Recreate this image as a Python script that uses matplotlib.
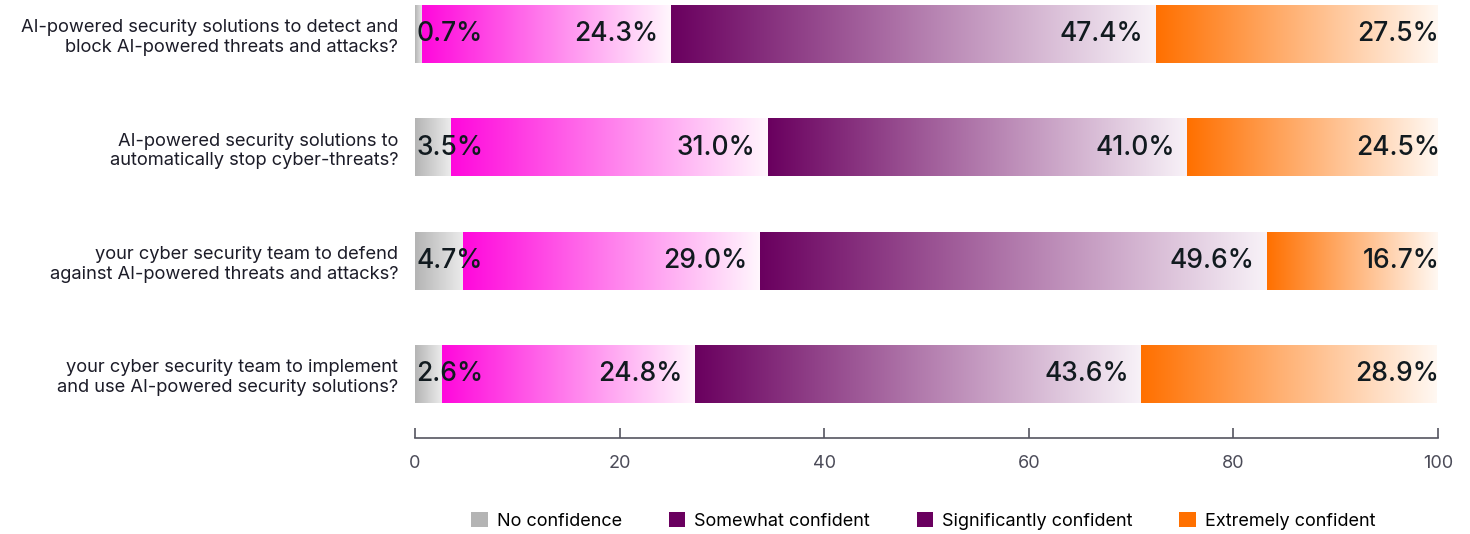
import numpy as np
import matplotlib
matplotlib.use("Agg")
import matplotlib.pyplot as plt
from matplotlib.colors import to_rgb
from matplotlib.patches import Patch

plt.rcParams['font.family'] = ['Inter', 'DejaVu Sans']

# data
categories = [
    "AI-powered security solutions to detect and\nblock AI-powered threats and attacks?",
    "AI-powered security solutions to\nautomatically stop cyber-threats?",
    "your cyber security team to defend\nagainst AI-powered threats and attacks?",
    "your cyber security team to implement\nand use AI-powered security solutions?",
]
no_confidence = [0.7, 3.5, 4.7, 2.6]
somewhat = [24.3, 31.0, 29.0, 24.8]
significantly = [47.4, 41.0, 49.6, 43.6]
extremely = [27.5, 24.5, 16.7, 28.9]

series = [no_confidence, somewhat, significantly, extremely]
# gradient start / end colours per series
grad = [("#b4b4b4", "#ececec"),
        ("#ff08dc", "#fff6fd"),
        ("#6a005f", "#f8f2f8"),
        ("#ff7000", "#fff8f2")]
legend_labels = ["No confidence", "Somewhat confident",
                 "Significantly confident", "Extremely confident"]
legend_colors = ["#b4b4b4", "#6a005f", "#6a005f", "#ff7000"]

fig = plt.figure(figsize=(14.7, 5.34), dpi=100)
ax = fig.add_axes([0.2823, 0.1798, 0.6959, 0.8202])

bar_h = 0.51
text_color = "#111a1f"

for i in range(len(categories)):
    left = 0.0
    for s, vals in enumerate(series):
        w = vals[i]
        c0 = np.array(to_rgb(grad[s][0]))
        c1 = np.array(to_rgb(grad[s][1]))
        t = np.linspace(0, 1, 256)[:, None]
        img = (c0 * (1 - t) + c1 * t)[None, :, :]
        ax.imshow(img, extent=(left, left + w, i + bar_h / 2, i - bar_h / 2),
                  aspect='auto', interpolation='bilinear', zorder=2)
        label = f"{w:.1f}%"
        if s == 0:
            ax.text(left + 0.15, i, label, ha='left', va='center',
                    fontsize=19, fontweight='medium', color=text_color, zorder=3)
        else:
            pad = -0.2 if s == len(series) - 1 else 1.2
            ax.text(min(left + w, 100.0) - pad, i, label, ha='right', va='center',
                    fontsize=19, fontweight='medium', color=text_color, zorder=3)
        left += w

ax.set_xlim(0, 100)
ax.set_ylim(3.56, -0.3)
ax.set_yticks(range(len(categories)))
ax.set_yticklabels(categories, fontsize=13.2, color="#1c1c28")
ax.tick_params(axis='y', length=0, pad=12)
ax.set_xticks([0, 20, 40, 60, 80, 100])
ax.tick_params(axis='x', direction='in', length=7, width=1.2,
               color="#555560", labelcolor="#4b4b58", labelsize=13, pad=12)
for side in ['top', 'right', 'left']:
    ax.spines[side].set_visible(False)
ax.spines['bottom'].set_color("#555560")
ax.spines['bottom'].set_linewidth(1.2)

handles = [Patch(facecolor=c, edgecolor='none') for c in legend_colors]
fig.legend(handles, legend_labels, loc='center', bbox_to_anchor=(0.628, 0.025),
           ncol=4, frameon=False, fontsize=13, handlelength=0.9,
           handleheight=0.9, handletextpad=0.5, columnspacing=2.6)

fig.savefig("out.png", dpi=100)
